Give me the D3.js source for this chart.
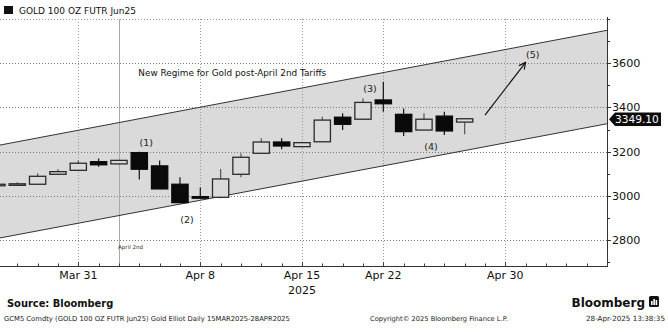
<!DOCTYPE html>
<html>
<head>
<meta charset="utf-8">
<script src="https://cdn.jsdelivr.net/npm/d3@7"></script>
<style>
  html, body { margin: 0; padding: 0; background: #fff; }
  svg { display: block; font-family: "DejaVu Sans", Verdana, sans-serif; }
</style>
</head>
<body>
<svg id="chart" width="668" height="332"></svg>
<script>
// Session calendar (COMEX, Good Friday closed), extended a few sessions past the last bar
const sessionDates = [
  "2025-03-25","2025-03-26","2025-03-27","2025-03-28","2025-03-31",
  "2025-04-01","2025-04-02","2025-04-03","2025-04-04",
  "2025-04-07","2025-04-08","2025-04-09","2025-04-10","2025-04-11",
  "2025-04-14","2025-04-15","2025-04-16","2025-04-17",
  "2025-04-21","2025-04-22","2025-04-23","2025-04-24","2025-04-25",
  "2025-04-28","2025-04-29","2025-04-30","2025-05-01","2025-05-02",
  "2025-05-05","2025-05-06","2025-05-07"
];

// Daily OHLC, GC Jun25
const barDates = sessionDates.slice(0, 24);
const openPx  = [3048,3053,3053,3098,3116,3155,3145,3196,3136,3053,2997,2994,3098,3193,3244,3223,3245,3356,3347,3434,3369,3298,3361,3334];
const highPx  = [3060,3062,3103,3121,3160,3170,3163,3200,3160,3085,3038,3122,3193,3261,3261,3245,3358,3374,3441,3516,3396,3374,3381,3350];
const lowPx   = [3040,3049,3053,3098,3116,3132,3143,3075,3032,2970,2990,2990,3085,3193,3211,3220,3245,3298,3347,3381,3271,3298,3276,3279];
const closePx = [3053,3055,3089,3110,3148,3141,3161,3121,3032,2970,2990,3077,3175,3244,3226,3241,3343,3324,3423,3417,3291,3347,3294,3349.10];
const lastPrice = 3349.10;

// Axis labels
const dateTicks  = ["2025-03-31","2025-04-08","2025-04-15","2025-04-22","2025-04-30"];
const dateLabels = ["Mar 31","Apr 8","Apr 15","Apr 22","Apr 30"];
const yearLabelDate = "2025-04-15";
const yearLabel = "2025";
const priceTicks = [2800,3000,3200,3400,3600];
const minorPriceTicks = [2700,2800,2900,3000,3100,3200,3300,3400,3500,3600,3700,3800];

// Trend channel anchors (date, price)
const upperDates = ["2025-03-26","2025-04-30"];
const upperPrices = [3245, 3662];
const lowerDates = ["2025-03-26","2025-04-30"];
const lowerPrices = [2825, 3240];

// Wave annotations
const waveLabels = ["(1)","(2)","(3)","(4)","(5)"];
const waveDates  = ["2025-04-03","2025-04-07","2025-04-21","2025-04-24","2025-05-01"];
const wavePrices = [3240, 2893, 3486, 3225, 3638];
const arrowDates = ["2025-04-29","2025-05-01"];
const arrowPrices = [3366, 3604];
const eventDate = "2025-04-02";
const regimeText = "New Regime for Gold post-April 2nd Tariffs";
const regimeDate = "2025-04-03";
const regimePrice = 3556;

const svg = d3.select("#chart");
const plot = { left: 0, right: 607, top: 19, bottom: 267 };

const idx = d => sessionDates.indexOf(d);
const x = d3.scaleLinear().domain([0.15, sessionDates.length - 1]).range([plot.left, plot.right]);
const y = d3.scaleLinear().domain([2679, 3800]).range([plot.bottom, plot.top]);
const step = x(1) - x(0);

svg.append("defs").append("clipPath").attr("id", "plotClip")
  .append("rect").attr("x", plot.left).attr("y", plot.top)
  .attr("width", plot.right - plot.left).attr("height", plot.bottom - plot.top);

const g = svg.append("g").attr("clip-path", "url(#plotClip)");

// Channel lines extended to the plot edges
function channelAt(dates, prices, i) {
  const i0 = idx(dates[0]), i1 = idx(dates[1]);
  return prices[0] + (prices[1] - prices[0]) * (i - i0) / (i1 - i0);
}
const xd = x.domain();
const upperPts = xd.map(i => [x(i), y(channelAt(upperDates, upperPrices, i))]);
const lowerPts = xd.map(i => [x(i), y(channelAt(lowerDates, lowerPrices, i))]);

g.append("path")
  .attr("d", d3.line()([...upperPts, ...lowerPts.slice().reverse()]) + "Z")
  .attr("fill", "#dadada");

// Horizontal grid
g.selectAll(".hgrid").data(priceTicks).join("line")
  .attr("x1", plot.left).attr("x2", plot.right)
  .attr("y1", d => Math.round(y(d)) + 0.5).attr("y2", d => Math.round(y(d)) + 0.5)
  .attr("stroke", "#7a7a7a").attr("stroke-width", 1).attr("stroke-dasharray", "1,2");

svg.append("line")
  .attr("x1", plot.left).attr("x2", plot.right)
  .attr("y1", plot.top + 0.5).attr("y2", plot.top + 0.5)
  .attr("stroke", "#9a9a9a").attr("stroke-dasharray", "1,2");

// Vertical grid
g.selectAll(".vgrid").data(dateTicks).join("line")
  .attr("x1", d => Math.round(x(idx(d))) + 0.5).attr("x2", d => Math.round(x(idx(d))) + 0.5)
  .attr("y1", plot.top).attr("y2", plot.bottom)
  .attr("stroke", "#9a9a9a").attr("stroke-width", 1).attr("stroke-dasharray", "1,2");

// Event marker line
g.append("line")
  .attr("x1", Math.round(x(idx(eventDate))) + 0.5).attr("x2", Math.round(x(idx(eventDate))) + 0.5)
  .attr("y1", plot.top).attr("y2", plot.bottom)
  .attr("stroke", "#a8a8a8").attr("stroke-width", 1);

g.selectAll(".chan").data([upperPts, lowerPts]).join("path")
  .attr("d", d => d3.line()(d))
  .attr("fill", "none").attr("stroke", "#333").attr("stroke-width", 1);

// Candles
const bars = barDates.map((d, k) => ({ d, o: openPx[k], h: highPx[k], l: lowPx[k], c: closePx[k] }));
const bw = step * 0.8;
const cg = g.selectAll(".candle").data(bars).join("g");
cg.append("line")
  .attr("x1", b => x(idx(b.d))).attr("x2", b => x(idx(b.d)))
  .attr("y1", b => y(b.h)).attr("y2", b => y(b.l))
  .attr("stroke", b => b.c >= b.o ? "#555" : "#111").attr("stroke-width", 1.2);
cg.append("rect")
  .attr("x", b => x(idx(b.d)) - bw / 2)
  .attr("width", bw)
  .attr("y", b => y(Math.max(b.o, b.c)))
  .attr("height", b => Math.max(1.5, Math.abs(y(b.o) - y(b.c))))
  .attr("fill", b => b.c >= b.o ? "#dadada" : "#0a0a0a")
  .attr("stroke", b => b.c >= b.o ? "#2a2a2a" : "#0a0a0a")
  .attr("stroke-width", 1.3);

// Annotations
svg.selectAll(".wave").data(waveLabels).join("text")
  .attr("x", (d, k) => x(idx(waveDates[k])) + 7)
  .attr("y", (d, k) => y(wavePrices[k]))
  .attr("dy", "0.35em").attr("text-anchor", "middle")
  .attr("font-size", 9.5).attr("fill", "#222").text(d => d);

svg.append("text")
  .attr("x", x(idx(regimeDate)) - 1).attr("y", y(regimePrice))
  .attr("dy", "0.35em").attr("font-size", 8.9).attr("fill", "#111")
  .text(regimeText);

svg.append("text")
  .attr("x", x(idx(eventDate)) - 1).attr("y", 247)
  .attr("dy", "0.35em").attr("font-size", 5.6).attr("fill", "#333")
  .text("April 2nd");

const defs = svg.select("defs");
defs.append("marker").attr("id", "arrowHead")
  .attr("viewBox", "0 0 10 10").attr("refX", 9).attr("refY", 5)
  .attr("markerWidth", 7).attr("markerHeight", 7).attr("orient", "auto")
  .append("path").attr("d", "M1,1 L9,5 L1,9").attr("fill", "none")
  .attr("stroke", "#111").attr("stroke-width", 1.4);

svg.append("line")
  .attr("x1", x(idx(arrowDates[0]))).attr("y1", y(arrowPrices[0]))
  .attr("x2", x(idx(arrowDates[1]))).attr("y2", y(arrowPrices[1]))
  .attr("stroke", "#111").attr("stroke-width", 1.2)
  .attr("marker-end", "url(#arrowHead)");

// Right price axis
const axisG = svg.append("g");
axisG.append("line")
  .attr("x1", plot.right + 0.5).attr("x2", plot.right + 0.5)
  .attr("y1", plot.top - 2).attr("y2", plot.bottom)
  .attr("stroke", "#333");
axisG.selectAll(".ptick").data(minorPriceTicks).join("line")
  .attr("x1", plot.right).attr("x2", d => plot.right + (priceTicks.includes(d) ? 4 : 3))
  .attr("y1", d => Math.round(y(d)) + 0.5).attr("y2", d => Math.round(y(d)) + 0.5)
  .attr("stroke", "#333");
axisG.selectAll(".plabel").data(priceTicks).join("text")
  .attr("x", plot.right + 5).attr("y", d => y(d) - (d === 3400 ? 1 : 0))
  .attr("dy", "0.36em").attr("font-size", 11.2).attr("fill", "#111")
  .text(d => d);

// Bottom date axis
const dAxis = svg.append("g");
dAxis.append("line")
  .attr("x1", plot.left).attr("x2", plot.right + 1)
  .attr("y1", plot.bottom - 0.5).attr("y2", plot.bottom - 0.5)
  .attr("stroke", "#333");
dAxis.selectAll(".dtick").data(sessionDates).join("line")
  .attr("x1", d => Math.round(x(idx(d))) + 0.5).attr("x2", d => Math.round(x(idx(d))) + 0.5)
  .attr("y1", plot.bottom - 1).attr("y2", d => plot.bottom - (dateTicks.includes(d) ? 5 : 3.5))
  .attr("stroke", "#444");
dAxis.selectAll(".dlabel").data(dateLabels).join("text")
  .attr("x", (d, k) => x(idx(dateTicks[k]))).attr("y", 278.5)
  .attr("text-anchor", "middle").attr("font-size", 11).attr("fill", "#111")
  .text(d => d);
dAxis.append("text")
  .attr("x", x(idx(yearLabelDate))).attr("y", 293.5)
  .attr("text-anchor", "middle").attr("font-size", 11).attr("fill", "#111")
  .text(yearLabel);

// Last price tag
const ly = y(lastPrice) + 0.5;
const th = 6.8;
svg.append("path")
  .attr("d", `M${plot.right + 2},${ly} L${plot.right + 8},${ly - th} L${plot.right + 54},${ly - th} L${plot.right + 54},${ly + th} L${plot.right + 8},${ly + th} Z`)
  .attr("fill", "#0c0c0c");
svg.append("text")
  .attr("x", plot.right + 8).attr("y", ly).attr("dy", "0.36em")
  .attr("font-size", 10.6).attr("fill", "#fff").text(lastPrice.toFixed(2));

// Header legend
svg.append("rect").attr("x", 4).attr("y", 6).attr("width", 9).attr("height", 8).attr("fill", "#111");
svg.append("text").attr("x", 19).attr("y", 13.5).attr("font-size", 9).attr("fill", "#111")
  .text("GOLD 100 OZ FUTR Jun25");

// Footer
svg.append("text").attr("x", 7).attr("y", 307).attr("font-size", 9.9)
  .attr("font-weight", "bold").attr("fill", "#111").text("Source: Bloomberg");
svg.append("text").attr("x", 4).attr("y", 321).attr("font-size", 6.8).attr("fill", "#222")
  .text("GCM5 Comdty (GOLD 100 OZ FUTR  Jun25) Gold Elliot  Daily 15MAR2025-28APR2025");
svg.append("text").attr("x", 370).attr("y", 321).attr("font-size", 6.7).attr("fill", "#222")
  .text("Copyright\u00a9 2025 Bloomberg Finance L.P.");
svg.append("text").attr("x", 665).attr("y", 321).attr("text-anchor", "end").attr("font-size", 7.2).attr("fill", "#222")
  .text("28-Apr-2025 13:38:35");
svg.append("text").attr("x", 645).attr("y", 307).attr("text-anchor", "end").attr("font-size", 12)
  .attr("font-weight", "bold").attr("fill", "#111").text("Bloomberg");
const logo = svg.append("g").attr("transform", "translate(649,296)");
logo.append("rect").attr("width", 10).attr("height", 11).attr("rx", 1.5).attr("fill", "#111");
[[2, 5, 1.6], [4.3, 3, 1.6], [6.6, 4, 1.6]].forEach(([bx, by, w]) =>
  logo.append("rect").attr("x", bx).attr("y", by).attr("width", w).attr("height", 8 - by + 1).attr("fill", "#fff"));
</script>
</body>
</html>
